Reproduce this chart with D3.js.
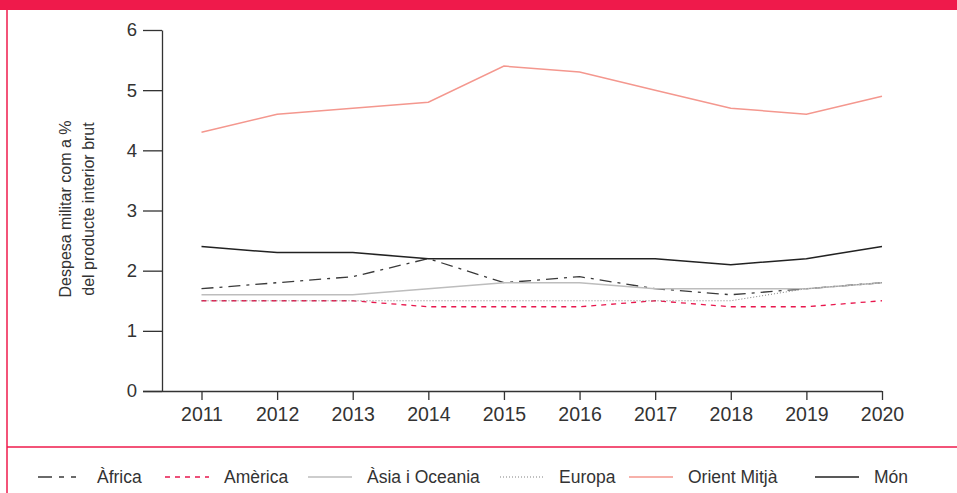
<!DOCTYPE html>
<html>
<head>
<meta charset="utf-8">
<script src="https://cdn.jsdelivr.net/npm/d3@7"></script>
<style>
  body { margin: 0; background: #fff; }
  svg { display: block; font-family: "Liberation Sans", Arial, sans-serif; }
</style>
</head>
<body>
<svg id="chart" width="957" height="493"></svg>
<script>
// data
var years = [2011, 2012, 2013, 2014, 2015, 2016, 2017, 2018, 2019, 2020];
var yTicks = [0, 1, 2, 3, 4, 5, 6];

var africa   = [1.7, 1.8, 1.9, 2.2, 1.8, 1.9, 1.7, 1.6, 1.7, 1.8];
var america  = [1.5, 1.5, 1.5, 1.4, 1.4, 1.4, 1.5, 1.4, 1.4, 1.5];
var asia     = [1.6, 1.6, 1.6, 1.7, 1.8, 1.8, 1.7, 1.7, 1.7, 1.8];
var europa   = [1.5, 1.5, 1.5, 1.5, 1.5, 1.5, 1.5, 1.5, 1.7, 1.8];
var orient   = [4.3, 4.6, 4.7, 4.8, 5.4, 5.3, 5.0, 4.7, 4.6, 4.9];
var mon      = [2.4, 2.3, 2.3, 2.2, 2.2, 2.2, 2.2, 2.1, 2.2, 2.4];

var series = [
    {name: "Àfrica", values: africa, color: "#3a3a3a", width: 1.3, dash: "12,6,3,6"},
    {name: "Amèrica", values: america, color: "#e8174d", width: 1.3, dash: "5,5"},
    {name: "Àsia i Oceania", values: asia, color: "#bdbdbd", width: 1.5, dash: null},
    {name: "Europa", values: europa, color: "#808080", width: 1, dash: "1,2"},
    {name: "Orient Mitjà", values: orient, color: "#f4978e", width: 1.5, dash: null},
    {name: "Món", values: mon, color: "#222", width: 1.5, dash: null}
];

var svg = d3.select("#chart");
var red = "#ef1a4b";
var font = "Liberation Sans, Arial, sans-serif";

// frame
svg.append("rect").attr("x", 0).attr("y", 0).attr("width", 957).attr("height", 10).attr("fill", red);
svg.append("line").attr("x1", 7).attr("x2", 7).attr("y1", 10).attr("y2", 493)
    .attr("stroke", red).attr("stroke-width", 1.5);
svg.append("line").attr("x1", 7).attr("x2", 957).attr("y1", 447).attr("y2", 447)
    .attr("stroke", red).attr("stroke-width", 1.5);

var x = d3.scaleLinear().domain([2011, 2020]).range([201.5, 882]);
var y = d3.scaleLinear().domain([0, 6]).range([391, 30]);

var textColor = "#333";

// y axis
var yAxis = svg.append("g").attr("transform", "translate(162,0)")
    .call(d3.axisLeft(y).tickValues(yTicks).tickFormat(d3.format("d")).tickSize(19).tickSizeOuter(0).tickPadding(6));
yAxis.selectAll("text").attr("font-size", 18.5).attr("fill", textColor).attr("font-family", font);
yAxis.selectAll("line").attr("stroke", "#333").attr("stroke-width", 1.3);
yAxis.select(".domain").attr("stroke", "#333").attr("stroke-width", 1.3);

// x axis
var xAxis = svg.append("g").attr("transform", "translate(0,391)")
    .call(d3.axisBottom(x).tickValues(years).tickFormat(d3.format("d")).tickSize(9).tickSizeOuter(0).tickPadding(7));
xAxis.select(".domain").attr("d", "M143,0.5H882").attr("stroke", "#333").attr("stroke-width", 1.3);
xAxis.selectAll("line").attr("stroke", "#333").attr("stroke-width", 1.3);
xAxis.selectAll("text").attr("font-size", 19.5).attr("fill", textColor).attr("font-family", font);

// axis title
var title = svg.append("text").attr("transform", "translate(0,209) rotate(-90)")
    .attr("text-anchor", "middle").attr("font-size", 16).attr("fill", textColor);
title.append("tspan").attr("x", 0).attr("y", 71).text("Despesa militar com a %");
title.append("tspan").attr("x", 0).attr("y", 94).text("del producte interior brut");

// lines
var line = d3.line()
    .x(function(d, i) { return x(years[i]); })
    .y(function(d) { return y(d); });

svg.append("g").selectAll("path").data(series).enter().append("path")
    .attr("d", function(d) { return line(d.values); })
    .attr("fill", "none")
    .attr("stroke", function(d) { return d.color; })
    .attr("stroke-width", function(d) { return d.width; })
    .attr("stroke-dasharray", function(d) { return d.dash; });

// legend
var legendX = [38, 165, 308, 500, 629, 815];
var leg = svg.append("g").selectAll("g").data(series).enter().append("g")
    .attr("transform", function(d, i) { return "translate(" + legendX[i] + ",477)"; });
leg.append("line").attr("x1", 0).attr("x2", 44).attr("y1", 0).attr("y2", 0)
    .attr("stroke", function(d) { return d.color; })
    .attr("stroke-width", function(d) { return d.width; })
    .attr("stroke-dasharray", function(d, i) { return i === 0 ? "14,7,5,7,5,7" : d.dash; });
leg.append("text").attr("x", 59).attr("y", 6).attr("font-size", 17.5).attr("fill", textColor)
    .text(function(d) { return d.name; });
</script>
</body>
</html>
